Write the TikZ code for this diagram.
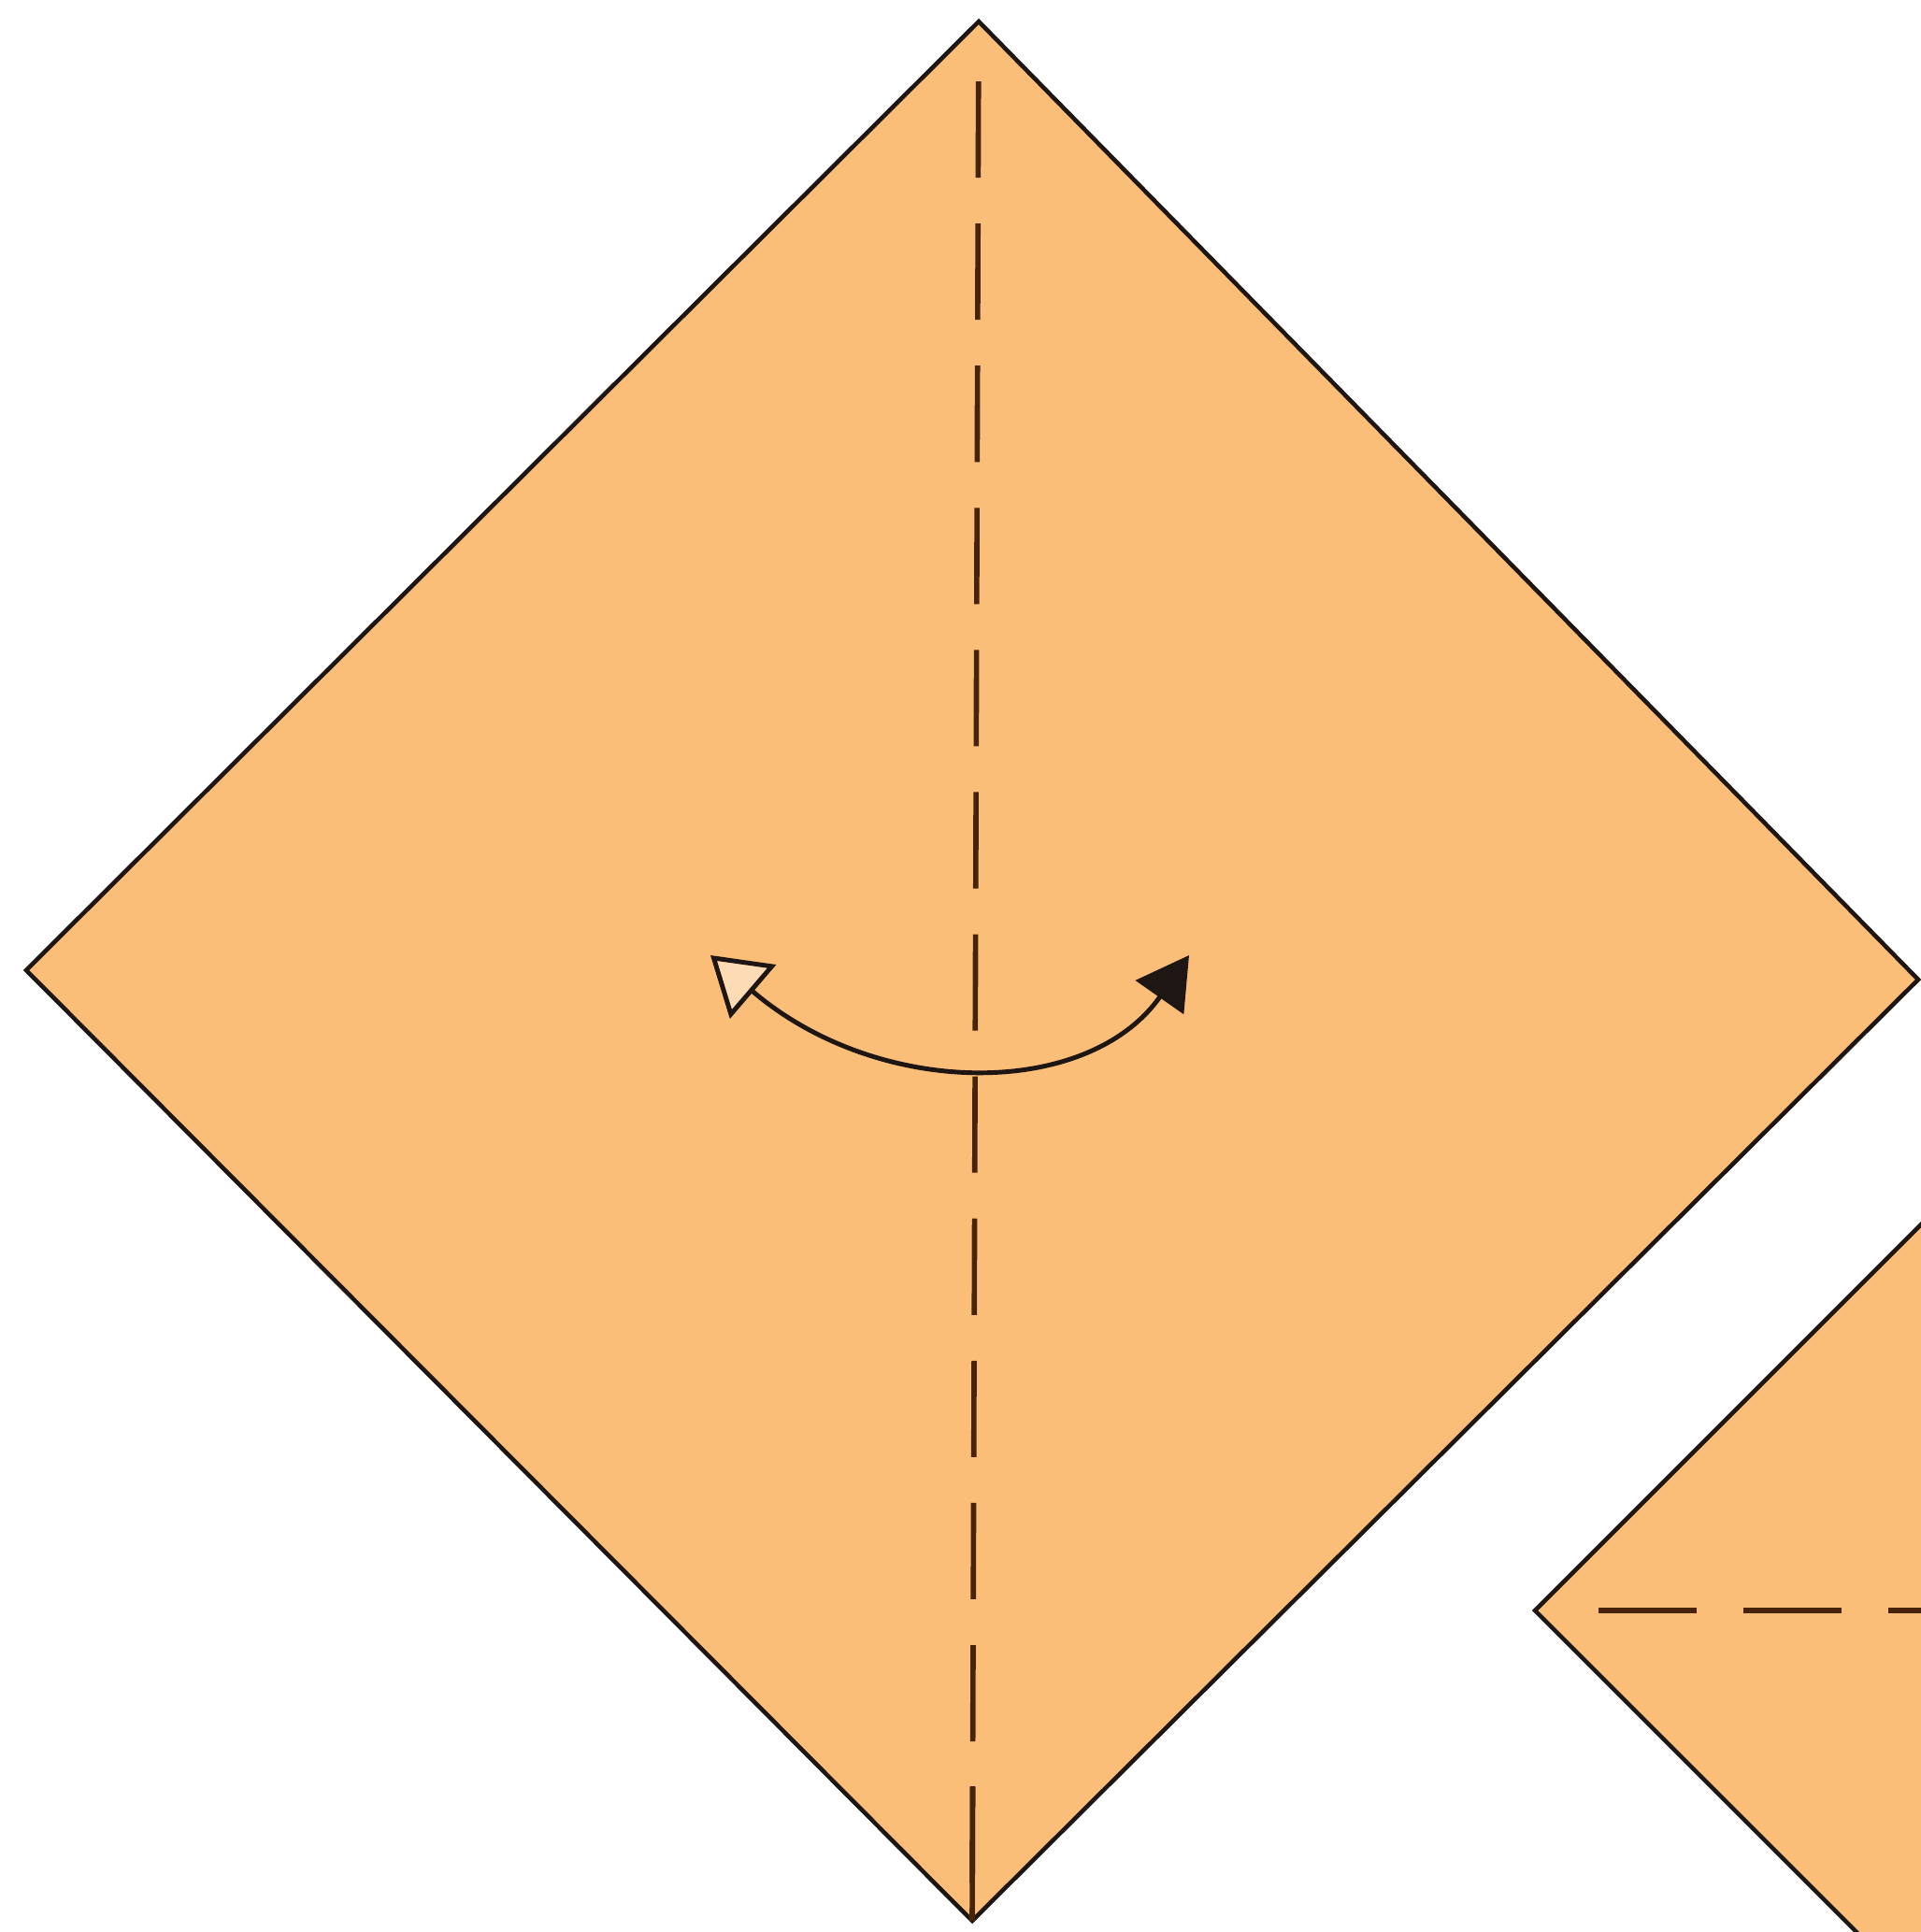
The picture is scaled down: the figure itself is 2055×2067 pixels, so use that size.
\documentclass[tikz,border=0pt]{standalone}
\usetikzlibrary{arrows.meta}
\definecolor{paper}{RGB}{250,190,120}
\definecolor{edge}{RGB}{30,22,18}
\definecolor{crease}{RGB}{70,35,10}
\begin{document}
\begin{tikzpicture}[x=0.01cm,y=-0.01cm,
  sheet/.style={fill=paper,draw=edge,line width=1.3pt,line join=miter},
  valley/.style={draw=crease,line width=1.6pt,dash pattern=on 1.03cm off 0.49cm,dash phase=1.03cm},
  valleyh/.style={draw=crease,line width=1.6pt,dash pattern=on 1.05cm off 0.5cm,dash phase=1.05cm},
  solidcrease/.style={draw=crease,line width=1.6pt},
  turn/.style={draw=edge,line width=1.4pt}]
\useasboundingbox (0,0) rectangle (2055,2067);
\clip (0,0) rectangle (2055,2067);
% first square
\coordinate (T) at (1047,23);
\coordinate (R) at (2052,1048);
\coordinate (B) at (1040,2055);
\coordinate (L) at (28,1038);
\draw[sheet] (T) -- (R) -- (B) -- (L) -- cycle;
\coordinate (Ts) at (1046.9,38);
\draw[valley] (Ts) -- (B);
\coordinate (Bend) at (1040.5,1911);
\draw[solidcrease] (Bend) -- (B);
% second square (partly shown)
\coordinate (L2) at (1642,1723);
\coordinate (T2) at (2200,1165);
\coordinate (R2) at (2758,1723);
\coordinate (B2) at (2200,2281);
\draw[sheet] (L2) -- (T2) -- (R2) -- (B2) -- cycle;
\coordinate (S2) at (1660,1723);
\coordinate (H2) at (2200,1723);
\draw[valleyh] (S2) -- (H2);
% turn-over arrow
\coordinate (A1) at (760,1022);
\coordinate (A2) at (1272,1022);
\draw[turn,{Triangle[open,fill=paper!55!white,length=0.6cm,width=0.75cm]}-{Triangle[length=0.55cm,width=0.62cm]}]
  (A1) .. controls (940,1176) and (1164,1176) .. (A2);
\end{tikzpicture}
\end{document}
